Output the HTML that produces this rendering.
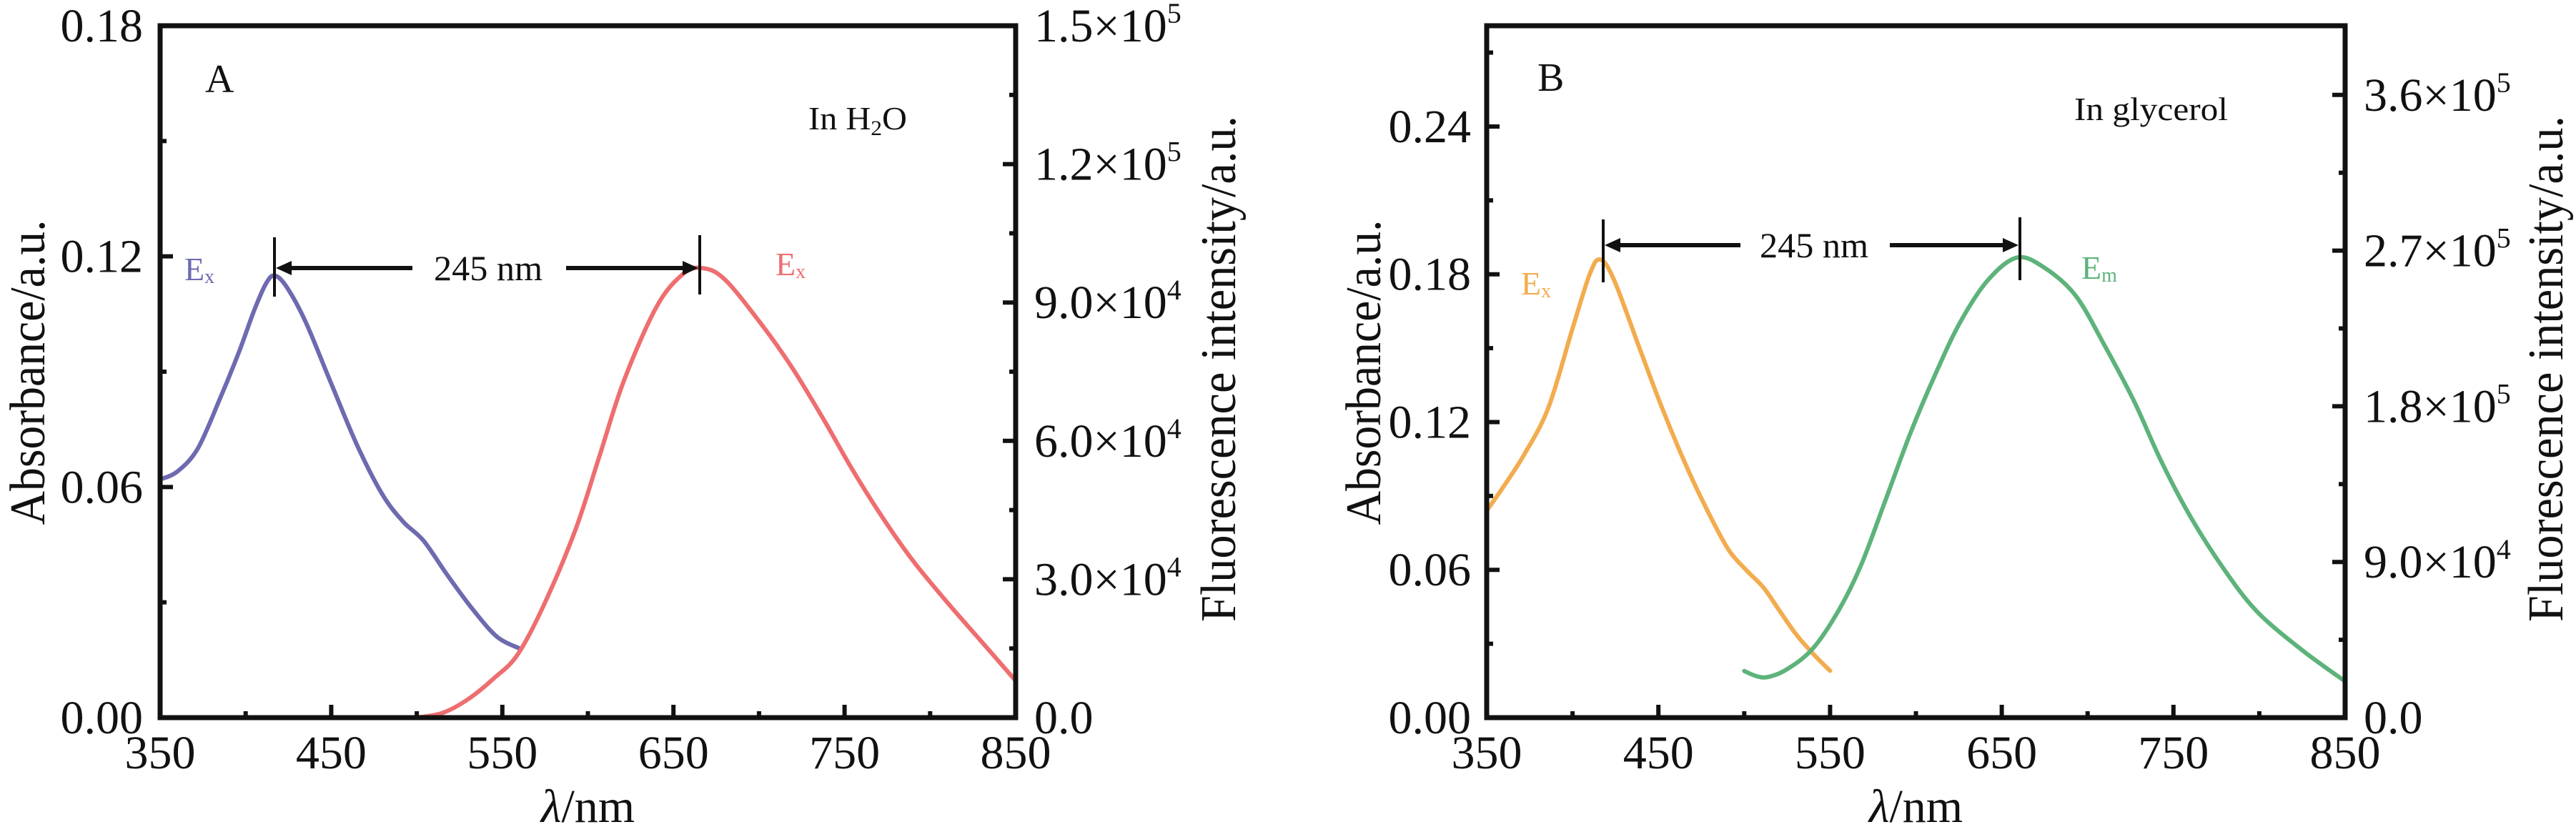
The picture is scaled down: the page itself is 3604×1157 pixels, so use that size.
<!DOCTYPE html>
<html><head><meta charset="utf-8"><style>
html,body{margin:0;padding:0;background:#fff;}
svg{display:block;}
text{font-family:"Liberation Serif",serif;fill:#111;}
</style></head><body>
<svg id="s" width="3604" height="1157" viewBox="0 0 3604 1157" xmlns="http://www.w3.org/2000/svg"></svg>
<script>
const S=document.getElementById('s');let h='';
function smooth(pts){let d='M'+pts[0][0].toFixed(1)+','+pts[0][1].toFixed(1);
for(let i=0;i<pts.length-1;i++){const p0=pts[i-1]||pts[i],p1=pts[i],p2=pts[i+1],p3=pts[i+2]||p2;
const c1=[p1[0]+(p2[0]-p0[0])/6,p1[1]+(p2[1]-p0[1])/6],c2=[p2[0]-(p3[0]-p1[0])/6,p2[1]-(p3[1]-p1[1])/6];
d+=`C${c1[0].toFixed(1)},${c1[1].toFixed(1)} ${c2[0].toFixed(1)},${c2[1].toFixed(1)} ${p2[0].toFixed(1)},${p2[1].toFixed(1)}`;}return d;}
function panel(o){
 const L=o.L,R=o.R,T=36,B=1004;
 const X=nm=>L+(nm-350)*(R-L)/500;
 const YL=v=>B-v*(B-T)/o.lmax, YR=v=>B-v*(B-T)/o.rmax;
 h+=`<path d="${smooth(o.c1.map(p=>[X(p[0]),YL(p[1])]))}" fill="none" stroke="${o.col1}" stroke-width="6" stroke-linecap="round"/>`;
 h+=`<path d="${smooth(o.c2.map(p=>[X(p[0]),YR(p[1])]))}" fill="none" stroke="${o.col2}" stroke-width="6" stroke-linecap="round"/>`;
 h+=`<rect x="${L}" y="${T}" width="${R-L}" height="${B-T}" fill="none" stroke="#111" stroke-width="7"/>`;
 for(let nm=350;nm<=850;nm+=50){const x=X(nm),maj=(nm-350)%100==0;
  h+=`<line x1="${x}" y1="${B}" x2="${x}" y2="${B-(maj?18:9)}" stroke="#111" stroke-width="6"/>`;
  if(maj)h+=`<text x="${x}" y="1075" font-size="66" text-anchor="middle">${nm}</text>`;}
 for(let v=0;v<=o.lmax+1e-9;v+=o.lstep/2){const y=YL(v),k=Math.round(v/(o.lstep/2)),maj=k%2==0;
  h+=`<line x1="${L}" y1="${y}" x2="${L+(maj?18:9)}" y2="${y}" stroke="#111" stroke-width="6"/>`;
  if(maj)h+=`<text x="${o.llx}" y="${y+22}" font-size="66" text-anchor="end">${v.toFixed(2)}</text>`;}
 for(let v=0;v<=o.rmax+1;v+=o.rstep/2){const y=YR(v),k=Math.round(v/(o.rstep/2)),maj=k%2==0;
  h+=`<line x1="${R}" y1="${y}" x2="${R-(maj?18:9)}" y2="${y}" stroke="#111" stroke-width="6"/>`;
  if(maj){let t;if(v==0)t='0.0';else{const e=Math.floor(Math.log10(v)+1e-9);t=(v/Math.pow(10,e)).toFixed(1)+'×10<tspan dy="-26" font-size="40">'+e+'</tspan>';}
   h+=`<text x="${R+26}" y="${y+22}" font-size="66">${t}</text>`;}}
 h+=`<text transform="translate(${o.tl},521) rotate(-90)" font-size="70" text-anchor="middle" textLength="427" lengthAdjust="spacingAndGlyphs">Absorbance/a.u.</text>`;
 h+=`<text transform="translate(${o.tr},516) rotate(-90)" font-size="70" text-anchor="middle" textLength="708" lengthAdjust="spacingAndGlyphs">Fluorescence intensity/a.u.</text>`;
 h+=`<text x="${(L+R)/2}" y="1150" font-size="66" text-anchor="middle"><tspan font-style="italic">λ</tspan>/nm</text>`;
 const a=o.ann;
 h+=`<line x1="${a.x1}" y1="${a.y1a}" x2="${a.x1}" y2="${a.y1b}" stroke="#111" stroke-width="4"/>`;
 h+=`<line x1="${a.x2}" y1="${a.y1a-3}" x2="${a.x2}" y2="${a.y1b-3}" stroke="#111" stroke-width="4"/>`;
 h+=`<line x1="${a.x1+20}" y1="${a.ay}" x2="${a.le}" y2="${a.ay}" stroke="#111" stroke-width="6"/>`;
 h+=`<polygon points="${a.x1+2},${a.ay} ${a.x1+24},${a.ay-10} ${a.x1+24},${a.ay+10}" fill="#111"/>`;
 h+=`<line x1="${a.rs}" y1="${a.ay}" x2="${a.x2-20}" y2="${a.ay}" stroke="#111" stroke-width="6"/>`;
 h+=`<polygon points="${a.x2-2},${a.ay} ${a.x2-24},${a.ay-10} ${a.x2-24},${a.ay+10}" fill="#111"/>`;
 h+=`<text x="${a.tx}" y="${a.ay+17}" font-size="50" text-anchor="middle" textLength="152" lengthAdjust="spacingAndGlyphs">245 nm</text>`;
 h+=o.extra;
}
panel({L:224,R:1421,lmax:0.18,lstep:0.06,rmax:1.5e5,rstep:3e4,llx:200,tl:62,tr:1728,
 col1:'#6E6AB0',col2:'#EE6E70',
 c1:[[350,0.062],[360,0.064],[372,0.070],[385,0.083],[396,0.095],[405,0.106],[412,0.113],[417,0.115],[424,0.112],[435,0.103],[449,0.088],[465,0.071],[480,0.058],[492,0.051],[504,0.046],[518,0.037],[533,0.028],[547,0.021],[560,0.018]],
 c2:[[500,0],[515,1000],[530,4000],[545,8500],[559,13700],[575,25000],[593,41000],[607,57000],[621,73000],[640,89000],[655,96000],[666,97500],[680,95000],[703,84500],[720,75500],[738,64500],[755,53500],[772,43500],[790,34000],[810,25000],[830,16500],[850,8000]],
 ann:{x1:384,x2:979,y1a:332,y1b:415,ay:375,le:577,rs:792,tx:683},
 extra:`<text x="287" y="129" font-size="56">A</text><text x="1131" y="181" font-size="46" textLength="138" lengthAdjust="spacingAndGlyphs">In H<tspan font-size="30" dy="8">2</tspan><tspan dy="-8">O</tspan></text>
 <text x="258" y="392" font-size="46" style="fill:#6E6AB0">E<tspan font-size="28" dy="4">x</tspan></text>
 <text x="1085" y="385" font-size="46" style="fill:#EE6E70">E<tspan font-size="28" dy="4">x</tspan></text>`});
panel({L:2080,R:3281,lmax:0.2809,lstep:0.06,rmax:4.0e5,rstep:9e4,llx:2058,tl:1931,tr:3585,
 col1:'#F2AC4E',col2:'#5DB37A',
 c1:[[350,0.084],[360,0.094],[372,0.107],[386,0.126],[400,0.158],[410,0.180],[416,0.186],[424,0.178],[439,0.150],[452,0.126],[467,0.101],[480,0.082],[491,0.068],[501,0.060],[511,0.053],[520,0.044],[530,0.034],[540,0.026],[550,0.019]],
 c2:[[500,27000],[507,24000],[514,23500],[525,28000],[540,40000],[555,62000],[568,88000],[582,125000],[597,165000],[612,200000],[626,229000],[642,253000],[659,266000],[675,260000],[693,244000],[710,215000],[727,183000],[743,148000],[760,116000],[780,85000],[799,61000],[825,39000],[850,21000]],
 ann:{x1:2243,x2:2826,y1a:307,y1b:395,ay:343,le:2435,rs:2644,tx:2538},
 extra:`<text x="2151" y="127" font-size="56">B</text><text x="2902" y="168" font-size="46" textLength="215" lengthAdjust="spacingAndGlyphs">In glycerol</text>
 <text x="2128" y="412" font-size="46" style="fill:#F2AC4E">E<tspan font-size="28" dy="4">x</tspan></text>
 <text x="2912" y="390" font-size="46" style="fill:#5DB37A">E<tspan font-size="28" dy="4">m</tspan></text>`});
S.innerHTML=h;
</script>
</body></html>
